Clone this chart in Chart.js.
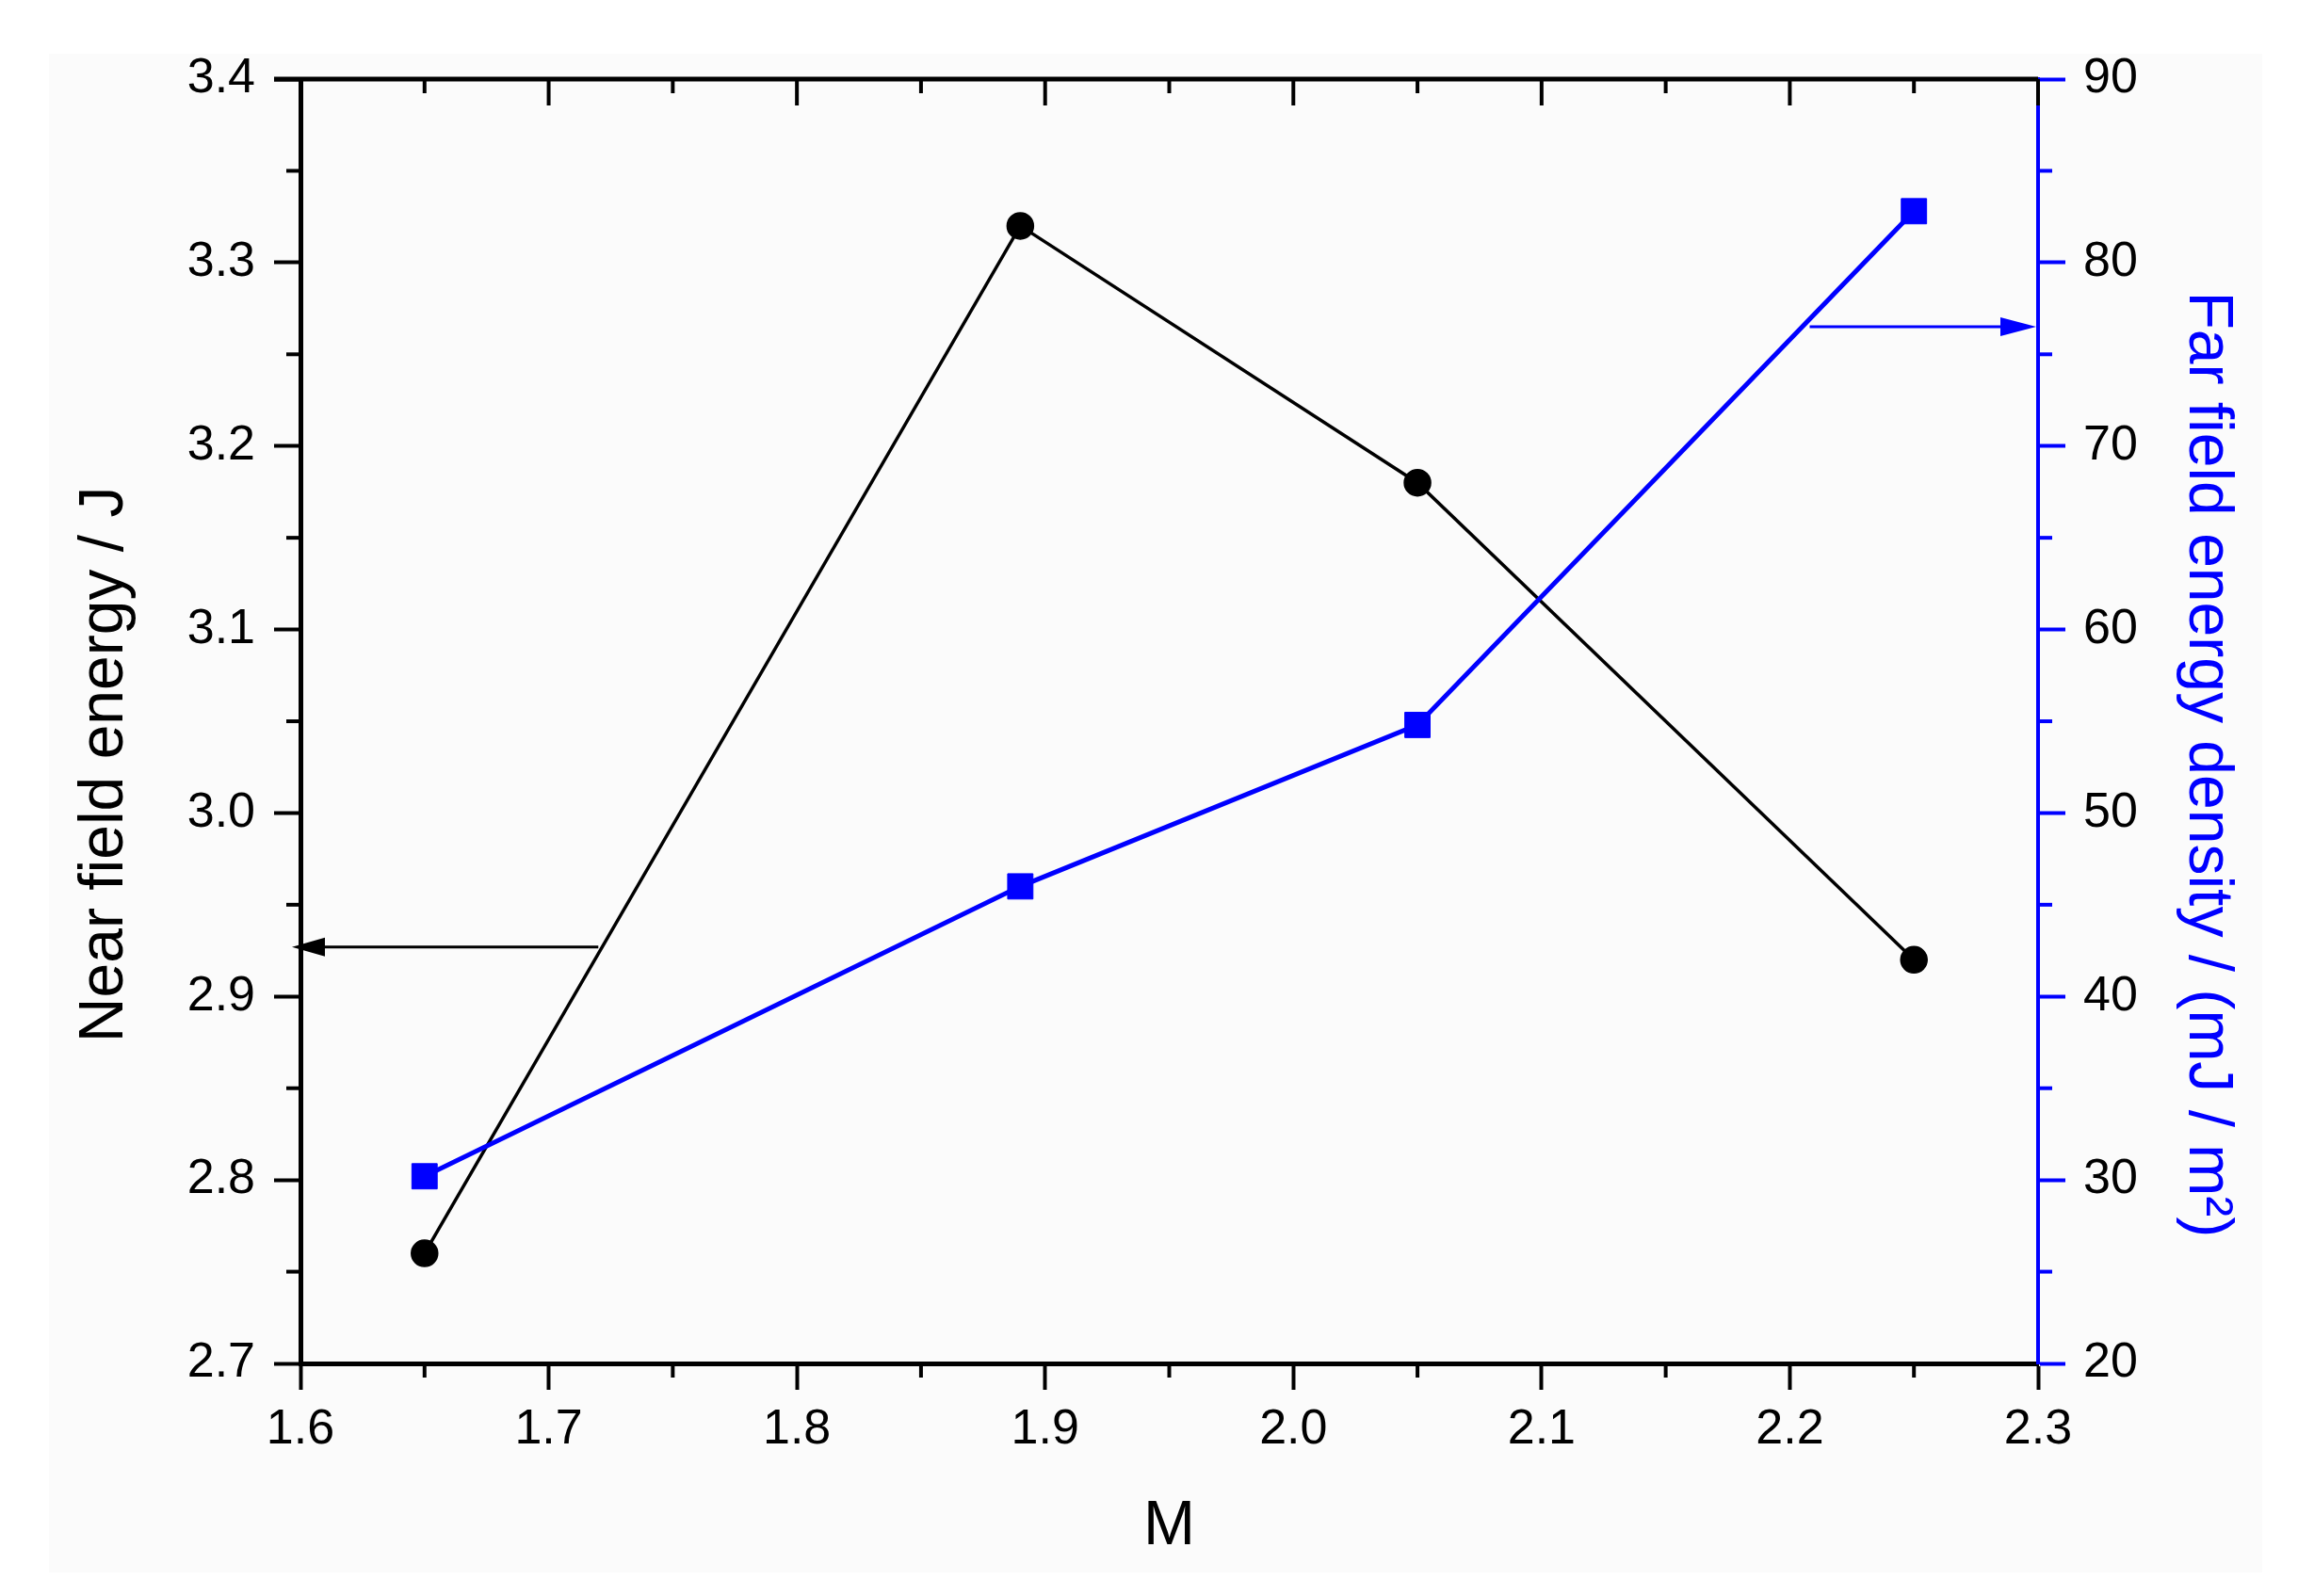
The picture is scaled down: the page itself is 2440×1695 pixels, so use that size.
<!DOCTYPE html>
<html>
<head>
<meta charset="utf-8">
<script src="https://cdn.jsdelivr.net/npm/chart.js@4.4.1/dist/chart.umd.min.js"></script>
<style>
html,body{margin:0;padding:0;background:#fff;}
#wrap{width:2440px;height:1695px;position:relative;}
canvas{display:block;}
</style>
</head>
<body>
<div id="wrap"><canvas id="c" width="2440" height="1695"></canvas></div>
<script>
// ---- data ----
const mValues = [1.65, 1.89, 2.05, 2.25];
const nearFieldEnergy = [2.76, 3.32, 3.18, 2.92];
const farFieldDensity = [30.2, 46.0, 54.8, 82.8];

// ---- tick labels ----
const xTickValues = [1.6, 1.7, 1.8, 1.9, 2.0, 2.1, 2.2, 2.3];
const xMinorTicks = [1.65, 1.75, 1.85, 1.95, 2.05, 2.15, 2.25];
const leftTickValues = [2.7, 2.8, 2.9, 3.0, 3.1, 3.2, 3.3, 3.4];
const leftMinorTicks = [2.75, 2.85, 2.95, 3.05, 3.15, 3.25, 3.35];
const rightTickValues = [20, 30, 40, 50, 60, 70, 80, 90];
const rightMinorTicks = [25, 35, 45, 55, 65, 75, 85];

// ---- arrows (data units) ----
const nearArrowY = 2.927;
const nearArrowX = [1.72, 1.6];
const farArrowY = 76.5;
const farArrowX = [2.208, 2.3];

const FONT = "'Liberation Sans', Arial, Helvetica, sans-serif";
const BLUE = '#0000ff';

const decor = {
  id: 'decor',
  beforeDraw(chart) {
    const ctx = chart.ctx;
    ctx.save();
    ctx.fillStyle = '#ffffff';
    ctx.fillRect(0, 0, chart.width, chart.height);
    ctx.fillStyle = '#fbfbfb';
    ctx.fillRect(52, 57, 2350, 1613);
    ctx.restore();
  },
  afterDatasetsDraw(chart) {
    const {ctx, scales: {x, y, y1}} = chart;
    ctx.save();
    // near-field arrow (points left to left axis)
    let yy = y.getPixelForValue(nearArrowY);
    let x0 = x.getPixelForValue(nearArrowX[0]);
    let x1 = x.getPixelForValue(nearArrowX[1]) - 9;
    ctx.strokeStyle = '#000'; ctx.fillStyle = '#000'; ctx.lineWidth = 3;
    ctx.beginPath(); ctx.moveTo(x0, yy); ctx.lineTo(x1 + 30, yy); ctx.stroke();
    ctx.beginPath(); ctx.moveTo(x1, yy); ctx.lineTo(x1 + 35, yy - 10); ctx.lineTo(x1 + 35, yy + 10); ctx.closePath(); ctx.fill();
    // far-field arrow (points right to right axis)
    yy = y1.getPixelForValue(farArrowY);
    x0 = x.getPixelForValue(farArrowX[0]);
    x1 = x.getPixelForValue(farArrowX[1]) - 2;
    ctx.strokeStyle = BLUE; ctx.fillStyle = BLUE; ctx.lineWidth = 3;
    ctx.beginPath(); ctx.moveTo(x0, yy); ctx.lineTo(x1 - 30, yy); ctx.stroke();
    ctx.beginPath(); ctx.moveTo(x1, yy); ctx.lineTo(x1 - 38, yy - 10); ctx.lineTo(x1 - 38, yy + 10); ctx.closePath(); ctx.fill();
    ctx.restore();
  },
  afterDraw(chart) {
    const {ctx, chartArea: {left, right, top, bottom}, scales: {x, y, y1}} = chart;
    ctx.save();
    // top frame line
    ctx.strokeStyle = '#000'; ctx.lineWidth = 5;
    ctx.beginPath(); ctx.moveTo(left - 28, top); ctx.lineTo(right, top); ctx.stroke();
    ctx.lineWidth = 4;
    // top ticks (inward)
    xTickValues.forEach(v => {
      const p = x.getPixelForValue(v);
      ctx.beginPath(); ctx.moveTo(p, top); ctx.lineTo(p, top + 28); ctx.stroke();
    });
    xMinorTicks.forEach(v => {
      const p = x.getPixelForValue(v);
      ctx.beginPath(); ctx.moveTo(p, top); ctx.lineTo(p, top + 15); ctx.stroke();
      ctx.beginPath(); ctx.moveTo(p, bottom); ctx.lineTo(p, bottom + 15); ctx.stroke();
    });
    leftMinorTicks.forEach(v => {
      const p = y.getPixelForValue(v);
      ctx.beginPath(); ctx.moveTo(left, p); ctx.lineTo(left - 15, p); ctx.stroke();
    });
    ctx.strokeStyle = BLUE;
    rightMinorTicks.forEach(v => {
      const p = y1.getPixelForValue(v);
      ctx.beginPath(); ctx.moveTo(right, p); ctx.lineTo(right + 15, p); ctx.stroke();
    });
    ctx.restore();
  }
};

const tickFont = {family: FONT, size: 52};
const titleFont = {family: FONT, size: 66};

new Chart(document.getElementById('c'), {
  type: 'line',
  data: {
    datasets: [
      {
        label: 'Far field energy density',
        data: mValues.map((m, i) => ({x: m, y: farFieldDensity[i]})),
        yAxisID: 'y1',
        borderColor: BLUE,
        backgroundColor: BLUE,
        borderWidth: 5,
        pointStyle: 'rect',
        pointRadius: 19,
        pointBorderWidth: 1,
        pointBackgroundColor: BLUE,
        pointBorderColor: BLUE,
        tension: 0,
        order: 0
      },
      {
        label: 'Near field energy',
        data: mValues.map((m, i) => ({x: m, y: nearFieldEnergy[i]})),
        yAxisID: 'y',
        borderColor: '#000',
        backgroundColor: '#000',
        borderWidth: 3.5,
        pointStyle: 'circle',
        pointRadius: 14,
        pointBorderWidth: 1.5,
        pointBackgroundColor: '#000',
        pointBorderColor: '#000',
        tension: 0,
        order: 1
      }
    ]
  },
  options: {
    responsive: false,
    devicePixelRatio: 1,
    animation: false,
    clip: false,
    layout: {padding: {top: 84, left: 0, right: 0, bottom: 0}},
    plugins: {legend: {display: false}, tooltip: {enabled: false}},
    scales: {
      x: {
        type: 'linear',
        position: 'bottom',
        min: 1.6, max: 2.3,
        afterBuildTicks: s => { s.ticks = xTickValues.map(v => ({value: v})); },
        afterFit: s => { s.height = 247; },
        grid: {drawOnChartArea: false, drawTicks: true, tickLength: 28, tickWidth: 4, color: '#000'},
        border: {display: true, color: '#000', width: 5},
        ticks: {color: '#000', font: tickFont, padding: 11, maxRotation: 0, autoSkip: false,
                callback: v => Number(v).toFixed(1)},
        title: {display: true, text: 'M', color: '#000', font: titleFont, padding: {top: 0, bottom: 34}}
      },
      y: {
        type: 'linear',
        position: 'left',
        min: 2.7, max: 3.4,
        afterBuildTicks: s => { s.ticks = leftTickValues.map(v => ({value: v})); },
        afterFit: s => { s.width = 319; },
        grid: {drawOnChartArea: false, drawTicks: true, tickLength: 28, tickWidth: 4, color: '#000'},
        border: {display: true, color: '#000', width: 5},
        ticks: {color: '#000', font: tickFont, padding: 20, autoSkip: false,
                callback: v => Number(v).toFixed(1)},
        title: {display: true, text: 'Near field energy / J     ', color: '#000', font: titleFont, padding: {top: 72, bottom: 0}}
      },
      y1: {
        type: 'linear',
        position: 'right',
        min: 20, max: 90,
        afterBuildTicks: s => { s.ticks = rightTickValues.map(v => ({value: v})); },
        afterFit: s => { s.width = 276; },
        grid: {drawOnChartArea: false, drawTicks: true, tickLength: 29, tickWidth: 4, color: BLUE},
        border: {display: true, color: BLUE, width: 4},
        ticks: {color: '#000', font: tickFont, padding: 19, autoSkip: false,
                callback: v => String(v)},
        title: {display: true, text: '     Far field energy density / (mJ / m\u00B2)', color: BLUE, font: titleFont, padding: {top: 57, bottom: 0}}
      }
    }
  },
  plugins: [decor]
});
</script>
</body>
</html>
